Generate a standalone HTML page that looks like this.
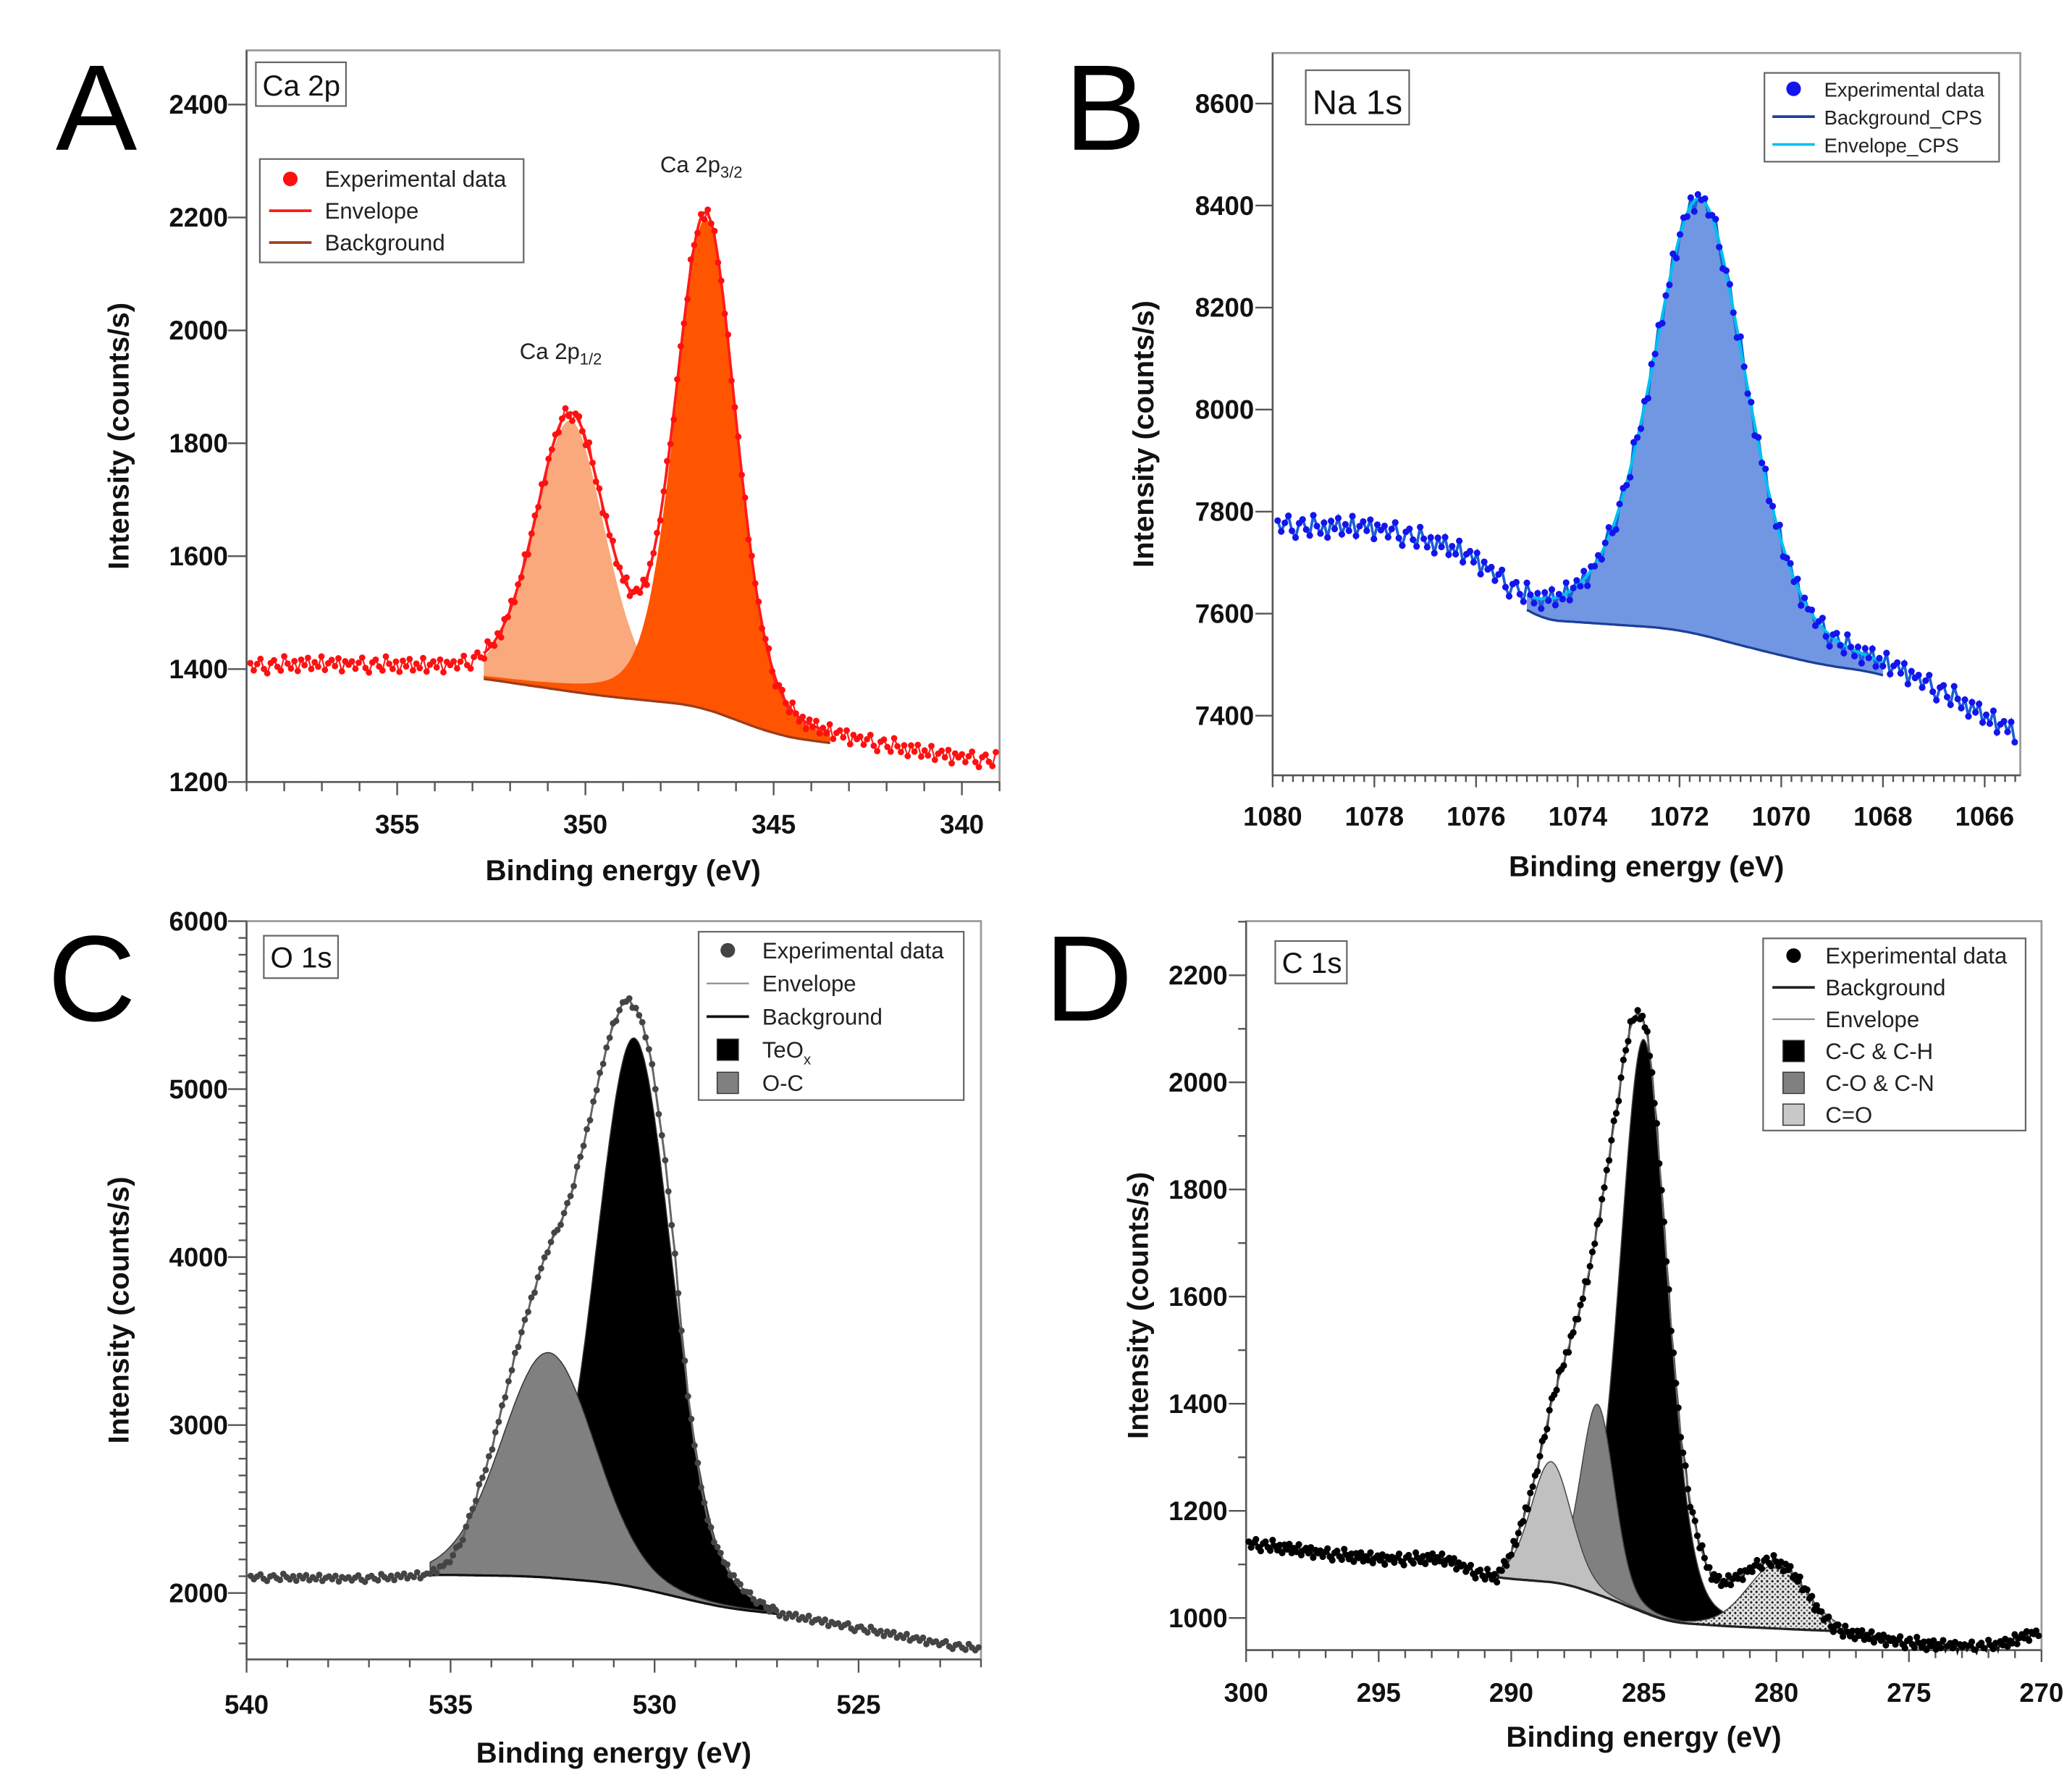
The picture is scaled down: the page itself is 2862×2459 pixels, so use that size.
<!DOCTYPE html>
<html><head><meta charset="utf-8">
<style>
html,body{margin:0;padding:0;background:#fff;}
svg{display:block;}
text{font-family:"Liberation Sans","DejaVu Sans",sans-serif;}
</style></head>
<body>
<svg id="fig" width="2862" height="2459" viewBox="0 0 1563 1343" preserveAspectRatio="none" xmlns="http://www.w3.org/2000/svg">
<defs>
<pattern id="stip" width="4" height="4" patternUnits="userSpaceOnUse">
<rect width="4" height="4" fill="#e6e6e6"/><circle cx="1" cy="1" r="0.9" fill="#222"/><circle cx="3" cy="3" r="0.7" fill="#555"/>
</pattern>
</defs>
</svg>
<script>
// ===== Panel A: Ca 2p =====
const caBaseX = [359,357,355,353.5,352.6,351,349.5,348,347,346,345,344,343.5,342,341,339];
const caBaseY = [1402,1405,1398,1390,1382,1366,1352,1342,1335,1310,1285,1272,1270,1255,1245,1232];
const caPeakCenter = [350.4,346.8];
const caPeakHeight = [480,870];
const caPeakFwhm = [2.2,1.9];
const caFitRange = [352.7,343.5];
const caYTicks = [1200,1400,1600,1800,2000,2200,2400];
const caXTicks = [355,350,345,340];
// ===== Panel B: Na 1s =====
const naBaseX = [1080,1079.5,1078,1077,1076,1075,1073.5,1072,1070.5,1069,1068,1067,1066,1065.3];
const naBaseY = [7775,7760,7765,7730,7700,7590,7580,7570,7530,7495,7485,7440,7390,7345];
const naPeakCenter = [1071.6];
const naPeakHeight = [855];
const naPeakFwhm = [2.2];
const naFitRange = [1075,1068];
const naYTicks = [7400,7600,7800,8000,8200,8400,8600];
const naXTicks = [1080,1078,1076,1074,1072,1070,1068,1066];
// ===== Panel C: O 1s =====
const oBaseX = [540,537,535.5,533,531,530,529,528,527,525,523,522];
const oBaseY = [2095,2085,2110,2100,2060,2010,1950,1900,1880,1790,1700,1660];
const oPeakCenter = [532.6,530.5];
const oPeakHeight = [1340,3270];
const oPeakFwhm = [2.7,2.2];
const oFitRange = [535.5,527];
const oEnvX = [535.5,535,534.7,534,533.35,532.7,532.1,531.6,531.1,530.7,530.3,530,529.6,529.4,529.1,528.7,528.3,527.8,527.1];
const oEnvY = [2115,2190,2327,2847,3480,4000,4320,4810,5330,5560,5420,5070,4290,3710,2990,2410,2180,2010,1890];
const oYTicks = [2000,3000,4000,5000,6000];
const oXTicks = [540,535,530,525];
// ===== Panel D: C 1s =====
const cBaseX = [300,297,295,293,292.5,291.5,290.5,288,286.5,285,284,282,279,277.5,276,274,272,271,270.4];
const cBaseY = [1140,1120,1110,1110,1115,1085,1075,1065,1040,1010,992,985,978,975,960,948,945,955,975];
const cPeakCenter = [288.5,286.75,285.0,280.0];
const cPeakHeight = [225,355,1070,120];
const cPeakFwhm = [1.8,1.5,2.1,2.6];
const cFitRange = [290.5,277.5];
const cEnvX = [290.5,290,289.5,289,288.5,288,287.5,287,286.5,286,285.6,285.2,284.8,284.4,284,283.6,283.2,282.8,282.4,282,281.5,281,280.5,280,279.5,279,278.5,278,277.5];
const cEnvY = [1078,1120,1190,1280,1400,1480,1560,1660,1800,1960,2090,2140,2080,1850,1560,1330,1200,1120,1075,1065,1075,1090,1105,1105,1090,1060,1020,990,975];
const cYTicks = [1000,1200,1400,1600,1800,2000,2200];
const cXTicks = [300,295,290,285,280,275,270];
// small hand-read scatter of experimental points about the fit
const noiseA = [5,-8,3,12,-6,-14,4,9,-3,-10,15,2,-7,6,-12,8,-2,11,-9,3,-5,13,-11,1,7,-4,10,-13,5,-1];

const NS="http://www.w3.org/2000/svg";
const svg=document.getElementById('fig');
function mk(tag,attrs,parent){const e=document.createElementNS(NS,tag);for(const k in attrs)e.setAttribute(k,attrs[k]);(parent||svg).appendChild(e);return e;}
function interp(xs,ys,x){
  if(x>=xs[0])return ys[0];
  for(let i=0;i<xs.length-1;i++){if(x<=xs[i]&&x>=xs[i+1]){const t=(xs[i]-x)/(xs[i]-xs[i+1]);return ys[i]+t*(ys[i+1]-ys[i]);}}
  return ys[ys.length-1];
}
function pv(x,c,h,w,eta){const u=(x-c)/w;return h*(eta/(1+4*u*u)+(1-eta)*Math.exp(-4*Math.LN2*u*u));}
function smoothBase(xs,ys,x){let s=0,n=0;for(let d=-0.6;d<=0.6001;d+=0.15){s+=interp(xs,ys,x+d);n++;}return s/n;}
function smoothEnv(xs,ys,x){let s=0,n=0;for(let d=-0.12;d<=0.1201;d+=0.06){s+=interp(xs,ys,x+d);n++;}return s/n;}

function panel(cfg){
  const g=mk('g',{});
  
  
  const [x0,x1,y0,y1]=cfg.box;
  const sx=v=>x0+(cfg.xd[0]-v)/(cfg.xd[0]-cfg.xd[1])*(x1-x0);
  const sy=v=>y1-(v-cfg.yd[0])/(cfg.yd[1]-cfg.yd[0])*(y1-y0);
  const frame=mk('rect',{x:x0,y:y0,width:x1-x0,height:y1-y0,fill:'none',stroke:'#9a9a9a','stroke-width':1.5},g);
  
  
  const ax=mk('g',{stroke:'#555','stroke-width':1.3},g);
  
  
  mk('line',{x1:x0,y1:y0,x2:x0,y2:y1},ax);
  mk('line',{x1:x0,y1:y1,x2:x1,y2:y1},ax);
  const lo=Math.min(cfg.xd[0],cfg.xd[1]),hi=Math.max(cfg.xd[0],cfg.xd[1]);
  for(let v=Math.ceil(lo/cfg.xMinor-1e-6)*cfg.xMinor;v<=hi+1e-6;v+=cfg.xMinor){
    const X=sx(v);const major=Math.abs(v/cfg.xMajor-Math.round(v/cfg.xMajor))<1e-4;
    const L=major?cfg.tickMaj:cfg.tickMin;
    mk('line',{x1:X,y1:y1,x2:X,y2:y1+cfg.xTickDir*L},ax);
  }
  for(let v=Math.ceil(cfg.yd[0]/cfg.yMinor)*cfg.yMinor;v<=cfg.yd[1];v+=cfg.yMinor){
    const Y=sy(v);const major=Math.abs(v/cfg.yMajor-Math.round(v/cfg.yMajor))<1e-4;
    mk('line',{x1:x0,y1:Y,x2:x0-(major?cfg.tickMaj+4:cfg.tickMin),y2:Y},ax);
  }
  cfg.yTicks.forEach(v=>{const t=mk('text',{x:x0-14,y:sy(v)+7,'text-anchor':'end','font-size':20,'font-weight':'bold',fill:'#111'},g);t.textContent=v;
    
    });
  cfg.xTicks.forEach(v=>{const t=mk('text',{x:sx(v),y:cfg.xLabY,'text-anchor':'middle','font-size':20,'font-weight':'bold',fill:'#111'},g);t.textContent=v;
    
    });
  const xt=mk('text',{x:(x0+x1)/2,y:cfg.xTitleY,'text-anchor':'middle','font-size':22,'font-weight':'bold',fill:'#111'},g);xt.textContent='Binding energy (eV)';
  
  
  const yt=mk('text',{x:0,y:0,'text-anchor':'middle','font-size':22,'font-weight':'bold',fill:'#111',transform:`translate(${cfg.yTitleX},${(y0+y1)/2+15}) rotate(-90)`},g);yt.textContent='Intensity (counts/s)';
  
  
  const pl=mk('text',{x:cfg.letter[0],y:cfg.letter[1],'font-size':92,fill:'#000'},g);pl.textContent=cfg.letterText;
  
  

  const base=x=>smoothBase(cfg.bx,cfg.by,x);
  const peak=(i,x)=>pv(x,cfg.pc[i],cfg.ph[i],cfg.pw[i],cfg.eta);
  const [fa,fb]=cfg.fit;
  const env=x=>{
    if(cfg.ex){ if(x>fa||x<fb) return base(x); return smoothEnv(cfg.ex,cfg.ey,x); }
    let s=base(x);cfg.pc.forEach((c,i)=>s+=peak(i,x));return s;};
  const step=0.05;
  const fitXs=[];for(let x=fa;x>=fb-1e-9;x-=step)fitXs.push(x);
  const order=cfg.pc.map((c,i)=>i);
  if(cfg.order)order.splice(0,order.length,...cfg.order);
  order.forEach(i=>{
    let d='';fitXs.forEach((x,k)=>{d+=(k?'L':'M')+sx(x).toFixed(1)+','+sy(base(x)+peak(i,x)).toFixed(1);});
    for(let k=fitXs.length-1;k>=0;k--){d+='L'+sx(fitXs[k]).toFixed(1)+','+sy(base(fitXs[k])).toFixed(1);}
    const p=mk('path',{d:d+'Z',fill:cfg.fills[i],stroke:cfg.peakStroke||'none','stroke-width':0.8},g);
    
    
  });
  let bd='';fitXs.forEach((x,k)=>{bd+=(k?'L':'M')+sx(x).toFixed(1)+','+sy(base(x)).toFixed(1);});
  const bp=mk('path',{d:bd,fill:'none',stroke:cfg.bgColor,'stroke-width':1.8},g);
  
  
  const pts=[];let k=0;
  for(let x=cfg.xd[0]-0.1;x>cfg.xd[1]+0.05;x-=cfg.dstep){pts.push([x,env(x)+noiseA[k%noiseA.length]*cfg.noiseScale]);k++;}
  if(cfg.dataLine){
    let dd='';pts.forEach((p,i)=>{dd+=(i?'L':'M')+sx(p[0]).toFixed(1)+','+sy(p[1]).toFixed(1);});
    const dl=mk('path',{d:dd,fill:'none',stroke:cfg.dataLine,'stroke-width':cfg.dataLineW||1.5},g);
    
    
  }
  let ed='';fitXs.forEach((x,i)=>{ed+=(i?'L':'M')+sx(x).toFixed(1)+','+sy(env(x)).toFixed(1);});
  const ep=mk('path',{d:ed,fill:'none',stroke:cfg.envColor,'stroke-width':cfg.envW},g);
  
  
  const dg=mk('g',{fill:cfg.dotColor},g);
  
  
  pts.forEach(p=>{if(sy(p[1])<=y1)mk('circle',{cx:sx(p[0]).toFixed(1),cy:sy(p[1]).toFixed(1),r:cfg.dotR},dg);});
  return g;
}

panel({name:'panel-a-ca2p',box:[186,754,38,590],xd:[359,339],yd:[1200,2496],xMinor:1,xMajor:5,yMinor:200,yMajor:200,xTickDir:1,tickMaj:10,tickMin:7,
  yTicks:caYTicks,xTicks:caXTicks,xLabY:629,xTitleY:664,yTitleX:97,letter:[42,113],letterText:'A',eta:0.25,
  bx:caBaseX,by:caBaseY,pc:caPeakCenter,ph:caPeakHeight,pw:caPeakFwhm,fit:caFitRange,fills:['#f9a97c','#ff5500'],
  bgColor:'#9a3d1a',envColor:'#ff1a1a',envW:2,dotColor:'#ff1010',dotR:2.4,dstep:0.09,noiseScale:1.0,dataLine:'#ff2020',dataLineW:1.2});
panel({name:'panel-b-na1s',box:[960,1524,40,585],xd:[1080,1065.3],yd:[7283,8699],xMinor:0.2,xMajor:2,yMinor:200,yMajor:200,xTickDir:1,tickMaj:9,tickMin:5,
  yTicks:naYTicks,xTicks:naXTicks,xLabY:623,xTitleY:661,yTitleX:870,letter:[803,113],letterText:'B',eta:0.35,
  bx:naBaseX,by:naBaseY,pc:naPeakCenter,ph:naPeakHeight,pw:naPeakFwhm,fit:naFitRange,fills:['#7196e2'],
  bgColor:'#1c3f9a',envColor:'#00c0f0',envW:2.2,dotColor:'#1414ee',dotR:2.5,dstep:0.07,noiseScale:1.6,dataLine:'#1a60d8',dataLineW:2});
panel({name:'panel-c-o1s',box:[186,740,695,1252],xd:[540,522],yd:[1605,6000],xMinor:1,xMajor:5,yMinor:100,yMajor:1000,xTickDir:1,tickMaj:10,tickMin:6,
  yTicks:oYTicks,xTicks:oXTicks,xLabY:1293,xTitleY:1330,yTitleX:97,letter:[36,770],letterText:'C',eta:0.12,order:[1,0],
  bx:oBaseX,by:oBaseY,pc:oPeakCenter,ph:oPeakHeight,pw:oPeakFwhm,fit:oFitRange,ex:oEnvX,ey:oEnvY,fills:['#808080','#000000'],peakStroke:'#333',
  bgColor:'#111',envColor:'#666',envW:1.2,dotColor:'#444',dotR:2.4,dstep:0.08,noiseScale:1.5,dataLine:'#555',dataLineW:1.5});
panel({name:'panel-d-c1s',box:[940,1540,695,1245],xd:[300,270],yd:[940,2301],xMinor:1,xMajor:5,yMinor:100,yMajor:200,xTickDir:1,tickMaj:9,tickMin:6,
  yTicks:cYTicks,xTicks:cXTicks,xLabY:1284,xTitleY:1318,yTitleX:866,letter:[788,770],letterText:'D',eta:0.2,order:[2,1,0,3],
  bx:cBaseX,by:cBaseY,pc:cPeakCenter,ph:cPeakHeight,pw:cPeakFwhm,fit:cFitRange,ex:cEnvX,ey:cEnvY,
  fills:['#c0c0c0','#808080','#000000','url(#stip)'],peakStroke:'#444',
  bgColor:'#222',envColor:'#666',envW:1.2,dotColor:'#000',dotR:2.5,dstep:0.09,noiseScale:0.8,dataLine:'#111',dataLineW:1.5});

function label(x,y,w,h,txt,fs,name){
  const g=mk('g',{});
  
  
  mk('rect',{x:x,y:y,width:w,height:h,fill:'#fff',stroke:'#666','stroke-width':1.2},g);
  const t=mk('text',{x:x+5,y:y+h-8,'font-size':fs,fill:'#111'},g);t.textContent=txt;
}
label(193,47,68,33,'Ca 2p',22,'panel-a-label');
label(985,53,78,41,'Na 1s',26,'panel-b-label');
label(199,706,56,32,'O 1s',22,'panel-c-label');
label(962,710,54,32,'C 1s',22,'panel-d-label');

function legend(x,y,w,h,items,fs,dy,name){
  const g=mk('g',{});
  
  
  mk('rect',{x:x,y:y,width:w,height:h,fill:'#fff',stroke:'#666','stroke-width':1.2},g);
  items.forEach((it,i)=>{
    const cy=y+dy[0]+i*dy[1];
    const e=mk('g',{},g);
    
    
    if(it.t==='dot')mk('circle',{cx:x+dy[2],cy:cy,r:5.5,fill:it.c},e);
    else if(it.t==='line')mk('line',{x1:x+dy[2]-16,y1:cy,x2:x+dy[2]+16,y2:cy,stroke:it.c,'stroke-width':it.w||2},e);
    else mk('rect',{x:x+dy[2]-8,y:cy-8,width:16,height:16,fill:it.c,stroke:'#333','stroke-width':0.8},e);
    const t=mk('text',{x:x+dy[3],y:cy+6,'font-size':fs,fill:'#222'},e);
    if(it.sub){t.textContent=it.s;const ts=mk('tspan',{'font-size':fs*0.65,dy:5},t);ts.textContent=it.sub;}else t.textContent=it.s;
  });
}
legend(196,120,199,78,[{t:'dot',c:'#ff1010',s:'Experimental data'},{t:'line',c:'#ff1a1a',s:'Envelope'},{t:'line',c:'#9a3d1a',s:'Background'}],17,[15,24,23,49],'legend-a');
legend(1331,55,177,67,[{t:'dot',c:'#1414ee',s:'Experimental data'},{t:'line',c:'#1c3f9a',s:'Background_CPS'},{t:'line',c:'#00c0f0',s:'Envelope_CPS'}],15,[12,21,22,45],'legend-b');
legend(527,703,200,127,[{t:'dot',c:'#444',s:'Experimental data'},{t:'line',c:'#888',w:1.2,s:'Envelope'},{t:'line',c:'#111',s:'Background'},{t:'sq',c:'#000',s:'TeO',sub:'x'},{t:'sq',c:'#808080',s:'O-C'}],17,[14,25,22,48],'legend-c');
legend(1330,708,198,145,[{t:'dot',c:'#000',s:'Experimental data'},{t:'line',c:'#222',s:'Background'},{t:'line',c:'#888',w:1.2,s:'Envelope'},{t:'sq',c:'#000',s:'C-C & C-H'},{t:'sq',c:'#808080',s:'C-O & C-N'},{t:'sq',c:'#c8c8c8',s:'C=O'}],17,[13,24,23,47],'legend-d');

const a1=mk('text',{x:392,y:271,'font-size':17,fill:'#222'});a1.textContent='Ca 2p';


const s1=mk('tspan',{'font-size':12,dy:4},a1);s1.textContent='1/2';
const a2=mk('text',{x:498,y:130,'font-size':17,fill:'#222'});a2.textContent='Ca 2p';


const s2=mk('tspan',{'font-size':12,dy:4},a2);s2.textContent='3/2';
</script>
</body></html>
